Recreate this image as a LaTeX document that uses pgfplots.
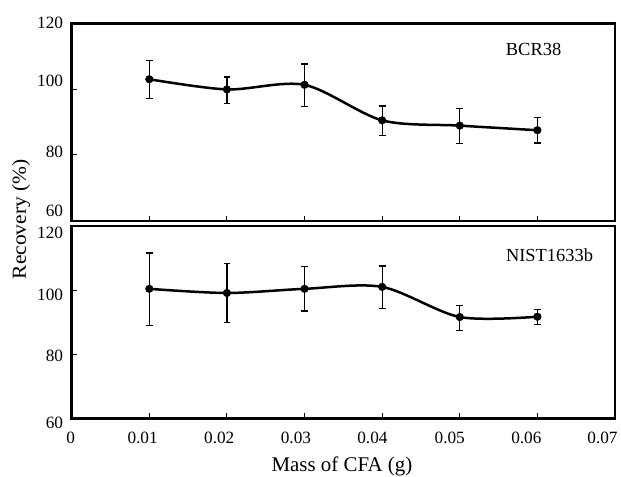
\documentclass[border=0pt]{standalone}
\usepackage{fontspec}
\setmainfont{Liberation Serif}
\newfontfamily\ylabfont{Liberation Serif}[FakeStretch=1.08]
\usepackage{pgfplots}
\pgfplotsset{compat=1.18}
\newcommand\ylab[3]{\node[anchor=east, inner sep=0pt, font=\fontsize{17.3}{19}\selectfont] at (axis cs:0,#1) [xshift=-8.4bp, yshift=#2bp] {#3};}
\newcommand\xlab[3]{\node[anchor=center, inner sep=0pt, font=\fontsize{17.3}{19}\selectfont] at (axis cs:#1,60) [xshift=#2bp, yshift=-19.2bp] {#3};}
\begin{document}
\begin{tikzpicture}
\pgfplotsset{
  panel/.style={
    scale only axis, width=543.3bp, xmin=0, xmax=0.07,
    ymin=60, ymax=120,
    scaled x ticks=false, scaled y ticks=false,
    axis line style={line width=2.4bp},
    tick align=inside, xtick pos=bottom, ytick pos=left,
    major tick length=5bp,
    tick style={line width=0.9bp, black},
    xticklabels={}, yticklabels={},
    clip=false,
  },
  curve/.style={line width=2.5bp, black, smooth, tension=0.5, mark=*,
    mark size=3.8bp, mark options={solid, line width=0.5bp},
    error bars/.cd, y dir=both, y explicit,
    error bar style={line width=1.3bp, black},
    error mark options={rotate=90, mark size=3.4bp, line width=1.3bp, black}},
}
\begin{axis}[panel, at={(0,0)}, anchor=north west, height=197.4bp,
  xtick={0.01,0.02,0.03,0.04,0.05,0.06},
  ytick={60,80,100,120},
]
\addplot[curve] coordinates {
  (0.01,103.0) += (0,5.7) -= (0,5.9)
  (0.02,99.9) += (0,3.8) -= (0,4.3)
  (0.03,101.3) += (0,6.3) -= (0,6.6)
  (0.04,90.5) += (0,4.4) -= (0,4.7)
  (0.05,88.9) += (0,5.2) -= (0,5.5)
  (0.06,87.5) += (0,3.8) -= (0,3.9)
};
\ylab{120}{0}{120}
\ylab{100}{8.3}{100}
\ylab{80}{3}{80}
\ylab{60}{10}{60}
\node[anchor=east, inner sep=0pt, font=\fontsize{18.5}{21}\selectfont] at (axis cs:0.0631,112.1) {BCR38};
\end{axis}
\begin{axis}[panel, at={(0,-202.7bp)}, anchor=north west, height=192.3bp,
  xtick={0,0.01,0.02,0.03,0.04,0.05,0.06,0.07},
  ytick={60,80,100,120},
]
\addplot[curve] coordinates {
  (0.01,100.4) += (0,11.2) -= (0,11.4)
  (0.02,99.1) += (0,9.1) -= (0,9.1)
  (0.03,100.4) += (0,7.0) -= (0,6.9)
  (0.04,101.0) += (0,6.5) -= (0,6.8)
  (0.05,91.6) += (0,3.6) -= (0,4.1)
  (0.06,91.7) += (0,2.3) -= (0,2.4)
};
\ylab{120}{-7.3}{120}
\ylab{100}{-4.9}{100}
\ylab{80}{-2}{80}
\ylab{60}{-5}{60}
\xlab{0}{-1}{0}
\xlab{0.01}{-6.7}{0.01}
\xlab{0.02}{-7.7}{0.02}
\xlab{0.03}{-8.6}{0.03}
\xlab{0.04}{-9.7}{0.04}
\xlab{0.05}{-10}{0.05}
\xlab{0.06}{-11}{0.06}
\xlab{0.07}{-12.5}{0.07}
\node[anchor=east, inner sep=0pt, font=\fontsize{18.5}{21}\selectfont] at (axis cs:0.0672,110.9) {NIST1633b};
\end{axis}
\node[anchor=base, font=\fontsize{21}{24}\selectfont] at (270.3bp,-448.4bp) {Mass of CFA (g)};
\node[rotate=90, font=\ylabfont\fontsize{20}{22}\selectfont] at (-50.7bp,-196bp) {Recovery (\%)};
\pgfresetboundingbox
\path (-71.7bp,23.3bp) rectangle (549.3bp,-453.7bp);
\end{tikzpicture}
\end{document}
